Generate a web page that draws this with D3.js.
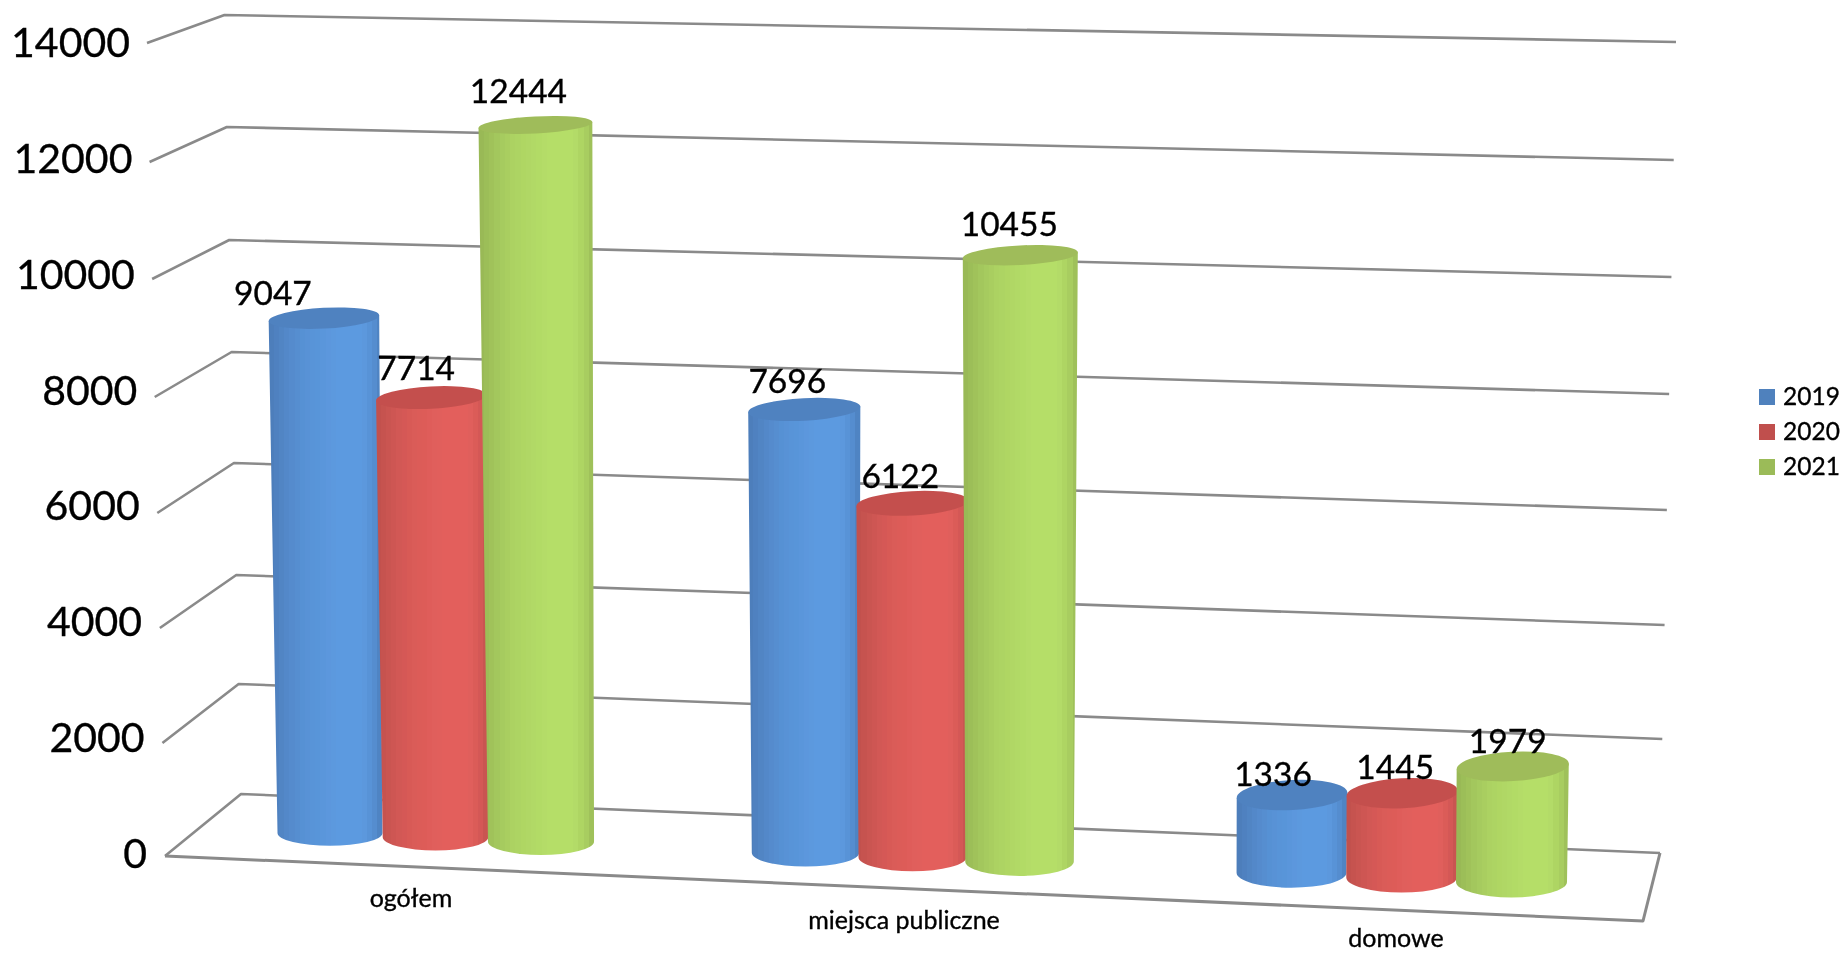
<!DOCTYPE html>
<html lang="pl">
<head>
<meta charset="utf-8">
<title>Wykres</title>
<script src="https://cdn.jsdelivr.net/npm/d3@7/dist/d3.min.js"></script>
<style>
html,body{margin:0;padding:0;background:#fff;overflow:hidden}
svg{display:block}
text{font-family:Lato,"Open Sans",sans-serif;fill:#000;stroke:#000;stroke-width:.35px}
</style>
</head>
<body>
<script>
// ---- data ----
const categories = ["ogółem", "miejsca publiczne", "domowe"];
const seriesNames = ["2019", "2020", "2021"];
const values2019 = [9047, 7696, 1336];
const values2020 = [7714, 6122, 1445];
const values2021 = [12444, 10455, 1979];
const tickValues = [0, 2000, 4000, 6000, 8000, 10000, 12000, 14000];

// ---- styles ----
const bodyDark = ["#4c7cb9", "#c0504d", "#97b755"];
const bodyLight = ["#5c9ae0", "#e35f5c", "#b5de68"];
const capColors = ["#5082c0", "#c4504e", "#9fbc5a"];
const legendColors = ["#4f81bd", "#c0504d", "#9bbb59"];
const gridColor = "#8a8a8a";
const W = 1842, H = 953;

const svgRoot = d3.select("body").append("svg").attr("width", W).attr("height", H).attr("viewBox", `0 0 ${W} ${H}`);
const defs = svgRoot.append("defs");
defs.append("filter").attr("id", "soft").attr("x", "-2%").attr("y", "-2%").attr("width", "104%").attr("height", "104%")
  .append("feGaussianBlur").attr("stdDeviation", 0.45);
const svg = svgRoot.append("g").attr("filter", "url(#soft)");

// ---- scales of the pseudo-3D box ----
const frontX = d3.scaleLinear().domain([0, 14000]).range([165, 147]);
const frontY = d3.scaleLinear().domain(tickValues).range([856, 743, 628, 513, 397, 279, 162, 43]);
const backX = d3.scaleLinear().domain([0, 14000]).range([241, 224.5]);
const backY = d3.scaleLinear().domain(tickValues).range([794, 684, 575, 463, 352, 240, 127, 15]);
const rightX = d3.scaleLinear().domain([0, 14000]).range([1660, 1676]);
const rightY = d3.scaleLinear().domain(tickValues).range([853, 739, 625, 510, 394, 277, 160, 42]);
const tickLabelX = d3.scaleLinear().domain([0, 14000]).range([147, 130]);
const tickLabelY = d3.scaleLinear().domain([0, 14000]).range([868, 57]);

// ---- scales of the cylinders ----
const catCenter = d3.scaleLinear().domain([0, 1, 2]).range([435.5, 912.5, 1401.5]);
const serStep = d3.scaleLinear().domain([0, 1, 2]).range([105.5, 107, 110]);
const baseY = d3.scaleLinear().domain([330, 1512]).range([833, 882]);
const baseHW = d3.scaleLinear().domain([330, 1512]).range([52.5, 55.5]);
const baseRy = d3.scaleLinear().domain([330, 1512]).range([12.8, 15.4]);
const pxPerUnit = d3.scaleLinear().domain([325, 433, 535, 805, 1020, 1512]).range([0.0569, 0.057, 0.0576, 0.0576, 0.058, 0.0584]);
const topRy = d3.scaleLinear().domain([125, 794]).range([8.5, 15]);
const topTilt = -3 * Math.PI / 180;

// label placement relative to the top of each cylinder [dx, dy] per category/series
const labelDx = [[-51, -15, -17], [-17, -12, -11], [-19, -7, -5]];
const labelDy = [[-13, -17.5, -22], [-16, -15.5, -19], [-9, -14, -13]];

const seriesValues = [values2019, values2020, values2021];
const line = d3.line();

// ---- grid: each tick runs front-left -> back-left -> far right ----
const gridG = svg.append("g").attr("fill", "none").attr("stroke", gridColor).attr("stroke-width", 2.6).attr("stroke-linejoin", "round");
gridG.selectAll("path").data(tickValues).join("path")
  .attr("d", v => line([[frontX(v), frontY(v)], [backX(v), backY(v)], [rightX(v), rightY(v)]]));
// floor: front edge and right edge
const floorFrontRight = [1643, 921];
gridG.append("path").attr("stroke-width", 3)
  .attr("d", line([[frontX(0), frontY(0)], floorFrontRight, [rightX(0), rightY(0)]]));

// ---- tick labels ----
svg.append("g").attr("text-anchor", "end").attr("font-size", 41)
  .selectAll("text").data(tickValues).join("text")
  .attr("x", tickLabelX).attr("y", tickLabelY).text(v => v);

// ---- gradients (faceted cylinder shading) ----
const shade = d3.scaleLinear().domain([0, 0.1, 0.2, 0.3, 0.45, 0.62, 0.82, 0.92, 1]).range([0, 0.25, 0.5, 0.7, 0.85, 1, 1, 0.65, 0.1]);
const facets = 22;
seriesNames.forEach((s, i) => {
  const mix = d3.interpolateRgb(bodyDark[i], bodyLight[i]);
  const g = defs.append("linearGradient").attr("id", "grad" + i).attr("x1", 0).attr("x2", 1).attr("y1", 0).attr("y2", 0);
  d3.range(facets).forEach(k => {
    const c = mix(shade((k + 0.5) / facets));
    g.append("stop").attr("offset", k / facets).attr("stop-color", c);
    g.append("stop").attr("offset", (k + 1) / facets).attr("stop-color", c);
  });
});

// ---- cylinders ----
const bars = [];
categories.forEach((cat, c) => {
  seriesNames.forEach((s, i) => {
    const v = seriesValues[i][c];
    const bx = catCenter(c) + (i - 1) * serStep(c);
    const by = baseY(bx);
    const h = v * pxPerUnit(bx);
    const ty = by - h;
    const tx = bx + (bx - 950) * h * 1.9e-5;
    const bw = baseHW(bx);
    const tw = bw + h * 0.0055;
    bars.push({ c, i, v, bx, by, h, tx, ty, bw, tw, bry: baseRy(bx), try: topRy(ty) });
  });
});
const barG = svg.append("g");
bars.forEach(b => {
  const cos = Math.cos(topTilt), sin = Math.sin(topTilt);
  const tl = [b.tx - b.tw * cos, b.ty - b.tw * sin];
  const tr = [b.tx + b.tw * cos, b.ty + b.tw * sin];
  barG.append("path")
    .attr("fill", `url(#grad${b.i})`)
    .attr("d", `M${tl} L${b.bx - b.bw},${b.by} A${b.bw},${b.bry} 0 0 0 ${b.bx + b.bw},${b.by} L${tr} Z`);
  barG.append("ellipse")
    .attr("cx", b.tx).attr("cy", b.ty).attr("rx", b.tw).attr("ry", b.try)
    .attr("transform", `rotate(${topTilt * 180 / Math.PI} ${b.tx} ${b.ty})`)
    .attr("fill", capColors[b.i]);
});

// ---- data labels ----
svg.append("g").attr("text-anchor", "middle").attr("font-size", 33.5)
  .selectAll("text").data(bars).join("text")
  .attr("x", b => b.tx + labelDx[b.c][b.i])
  .attr("y", b => b.ty + labelDy[b.c][b.i])
  .text(b => b.v);

// ---- category labels ----
const catLabelX = d3.scaleLinear().domain([0, 1, 2]).range([411, 904, 1396]);
const catLabelY = d3.scaleLinear().domain([0, 1, 2]).range([907, 929, 946.5]);
svg.append("g").attr("text-anchor", "middle").attr("font-size", 25)
  .selectAll("text").data(categories).join("text")
  .attr("x", (d, i) => catLabelX(i)).attr("y", (d, i) => catLabelY(i)).text(d => d);

// ---- legend ----
const legendY = d3.scalePoint().domain(seriesNames).range([389, 459]);
const lg = svg.append("g").selectAll("g").data(seriesNames).join("g")
  .attr("transform", d => `translate(1759,${legendY(d)})`);
lg.append("rect").attr("width", 16).attr("height", 16).attr("fill", (d, i) => legendColors[i]);
lg.append("text").attr("x", 24).attr("y", 15.5).attr("font-size", 24.5).text(d => d);
</script>
</body>
</html>
